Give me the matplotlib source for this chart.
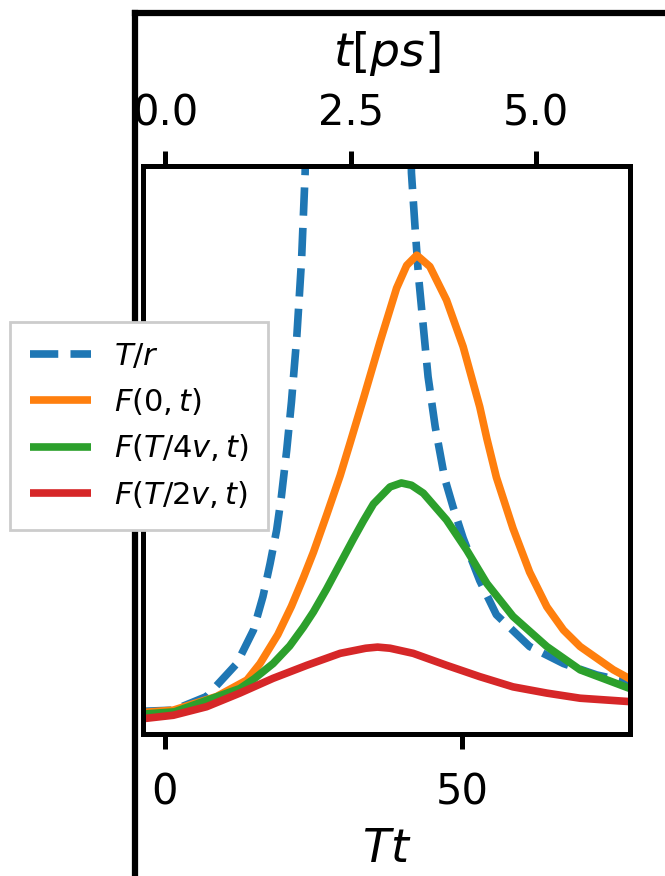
import numpy as np
import matplotlib
matplotlib.use('Agg')
import matplotlib.pyplot as plt

plt.rcParams['font.family'] = 'DejaVu Sans'
plt.rcParams['mathtext.fontset'] = 'dejavusans'

# time axis (units of 1/T) and conversion to picoseconds
PS_PER_T = 0.08

tt_r = [-3.7, 1.4, 7.0, 12.1, 14.9, 16.5, 17.7, 18.8, 19.6, 20.5, 21.3, 22.2, 23.0, 23.6, 24.5,
        40.5, 41.5, 42.1, 42.7, 43.5, 44.3, 45.5, 47.1, 48.5, 50.2, 53.0, 55.8, 61.4, 67.1,
        72.7, 78.3]
T_over_r = [0.040, 0.042, 0.066, 0.124, 0.183, 0.242, 0.30, 0.359, 0.418, 0.50, 0.585,
            0.70, 0.835, 0.988, 1.6, 1.6, 0.988, 0.893, 0.805, 0.717, 0.629, 0.541, 0.45,
            0.40, 0.345, 0.27, 0.21, 0.154, 0.124, 0.104, 0.091]

tt_0 = [-3.7, 1.4, 8.7, 13.8, 16.0, 19.0, 21.3, 23.3, 25.0, 27.2, 29.5, 31.1, 33.4, 36.2,
        39.0, 40.7, 42.4, 44.6, 47.4, 50.2, 53.0, 54.2, 55.8, 58.6, 61.4, 64.3, 67.1, 69.9,
        75.5, 78.3]
F_0 = [0.038, 0.042, 0.066, 0.095, 0.124, 0.175, 0.225, 0.275, 0.32, 0.385, 0.455, 0.51,
       0.59, 0.69, 0.785, 0.825, 0.843, 0.823, 0.764, 0.682, 0.576, 0.52, 0.452, 0.362,
       0.285, 0.224, 0.183, 0.154, 0.113, 0.097]

tt_4 = [-3.7, 1.6, 12.6, 15.0, 18.2, 21.0, 23.3, 25.0, 27.2, 29.5, 31.7, 33.4, 35.1, 37.9,
        39.8, 41.5, 43.5, 47.4, 50.8, 54.2, 58.6, 64.3, 69.9, 78.3]
F_T4v = [0.035, 0.039, 0.080, 0.097, 0.124, 0.155, 0.188, 0.215, 0.255, 0.30, 0.343, 0.375,
         0.405, 0.435, 0.442, 0.438, 0.424, 0.377, 0.324, 0.265, 0.207, 0.154, 0.113, 0.080]

tt_2 = [-3.7, 1.4, 7.0, 12.6, 18.2, 23.9, 29.5, 33.8, 35.8, 37.9, 41.8, 47.4, 53.0, 58.6,
        64.3, 69.9, 78.3]
F_T2v = [0.027, 0.033, 0.048, 0.072, 0.098, 0.121, 0.142, 0.151, 0.153, 0.151, 0.142, 0.121,
         0.101, 0.083, 0.072, 0.063, 0.057]

fig = plt.figure(figsize=(6.65, 8.76), dpi=100)

# frame of the enclosing panel
outer = fig.add_axes([135/665, -0.2, 1.0, 1.2 - 13/876])
outer.set_xticks([])
outer.set_yticks([])
for s in outer.spines.values():
    s.set_linewidth(4.5)

ax = fig.add_axes([143/665, 1 - 734/876, (630 - 143)/665, (734 - 166)/876])
kw = dict(lw=5.5, solid_joinstyle='round', solid_capstyle='butt')
l1, = ax.plot(tt_r, T_over_r, '--', color='tab:blue', label='$T/r$', **kw)
l2, = ax.plot(tt_0, F_0, color='tab:orange', label='$F(0,t)$', **kw)
l3, = ax.plot(tt_4, F_T4v, color='tab:green', label='$F(T/4v,t)$', **kw)
l4, = ax.plot(tt_2, F_T2v, color='tab:red', label='$F(T/2v,t)$', **kw)
ax.set_xlim(-3.7, 78.3)
ax.set_ylim(0, 1)
ax.set_yticks([])
ax.set_xticks([0, 50])
ax.tick_params(axis='x', labelsize=30, length=11, width=3.6, pad=16)
ax.set_xlabel('$Tt$', fontsize=33, labelpad=10)
for s in ax.spines.values():
    s.set_linewidth(3.6)

sec = ax.secondary_xaxis('top', functions=(lambda x: x*PS_PER_T, lambda t: t/PS_PER_T))
sec.set_xticks([0, 2.5, 5.0])
sec.tick_params(labelsize=30, length=11, width=3.6, pad=12)
sec.set_xlabel('$t[ps]$', fontsize=34, labelpad=19)
sec.spines['top'].set_linewidth(3.6)

leg = fig.legend(handles=[l1, l2, l3, l4], loc='upper left',
                 bbox_to_anchor=(10/665, 1 - 322/876), fontsize=22,
                 framealpha=1, fancybox=False, borderaxespad=0,
                 borderpad=0.65, labelspacing=0.5, handletextpad=0.75,
                 handlelength=2.0)
leg.get_frame().set_edgecolor('0.8')
leg.get_frame().set_linewidth(2)

fig.savefig('out.png', dpi=100)
